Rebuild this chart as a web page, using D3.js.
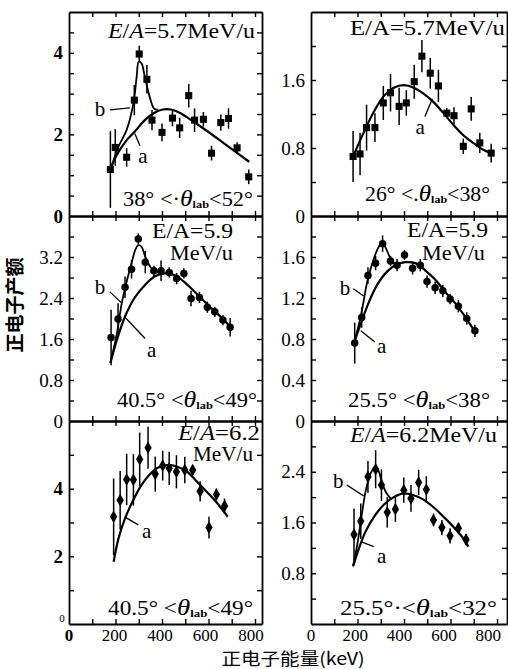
<!DOCTYPE html>
<html>
<head>
<meta charset="utf-8">
<script src="https://cdn.jsdelivr.net/npm/d3@7"></script>
<style>
body { margin: 0; background: #fff; }
svg { display: block; }
text { font-family: "Liberation Serif", "DejaVu Serif", serif; fill: #000; }
</style>
</head>
<body>
<svg width="508" height="669"></svg>
<script>
// DATA  (energy in keV, yield, error)
// panel 1: E/A=5.7, 38-52 deg
const e1 = [178, 199, 248, 281, 302, 335, 357, 400, 445, 476, 515, 540, 578, 613, 653, 686, 723, 773];
const y1 = [1.14, 1.68, 1.44, 2.84, 3.97, 3.35, 2.35, 2.05, 2.40, 2.16, 2.95, 2.35, 2.37, 1.54, 2.29, 2.39, 1.67, 0.96];
const err1 = [0.94, 0.45, 0.23, 0.37, 0.2, 0.35, 0.25, 0.22, 0.2, 0.25, 0.29, 0.29, 0.18, 0.18, 0.2, 0.25, 0.14, 0.18];
const a1 = [[178, 1.13], [206, 1.50], [248, 1.86], [283, 2.07], [326, 2.35], [368, 2.53], [403, 2.61], [438, 2.61], [480, 2.52], [536, 2.31], [592, 2.09], [648, 1.86], [705, 1.62], [775, 1.33]];
const b1 = [[178, 1.13], [213, 1.70], [248, 2.11], [277, 2.76], [291, 3.41], [300, 3.78], [312, 3.74], [326, 3.41], [347, 2.92], [365, 2.64], [382, 2.60]];

// panel 2: E/A=5.7, 26-38 deg
const e2 = [181, 211, 239, 275, 311, 342, 379, 410, 444, 477, 513, 548, 584, 615, 655, 689, 726, 775];
const y2 = [0.70, 0.73, 1.04, 1.04, 1.33, 1.45, 1.29, 1.33, 1.58, 1.88, 1.68, 1.53, 1.21, 1.18, 0.82, 1.26, 0.86, 0.74];
const err2 = [0.30, 0.25, 0.27, 0.17, 0.2, 0.22, 0.22, 0.15, 0.2, 0.19, 0.18, 0.19, 0.06, 0.1, 0.09, 0.14, 0.12, 0.11];
const a2 = [[181, 0.70], [228, 0.99], [271, 1.23], [313, 1.41], [356, 1.51], [399, 1.54], [442, 1.51], [484, 1.44], [527, 1.34], [570, 1.21], [613, 1.07], [655, 0.95], [698, 0.86], [741, 0.78], [775, 0.74]];

// panel 3: E/A=5.9, 40.5-49 deg
const e3 = [181, 211, 241, 269, 298, 328, 365, 396, 431, 463, 494, 525, 561, 595, 627, 662, 693];
const y3 = [1.63, 1.99, 2.61, 2.96, 3.55, 3.10, 2.93, 2.93, 2.90, 2.78, 2.88, 2.39, 2.41, 2.22, 2.13, 1.97, 1.83];
const err3 = [0.54, 0.31, 0.21, 0.18, 0.11, 0.22, 0.1, 0.2, 0.1, 0.11, 0.1, 0.15, 0.11, 0.11, 0.1, 0.1, 0.18];
const a3 = [[178, 1.13], [206, 1.58], [241, 2.04], [283, 2.41], [326, 2.65], [368, 2.82], [410, 2.88], [452, 2.85], [494, 2.72], [536, 2.54], [578, 2.35], [620, 2.17], [662, 1.99], [698, 1.81]];
const b3 = [[178, 1.13], [206, 1.71], [227, 2.30], [248, 2.72], [269, 3.08], [286, 3.35], [298, 3.43], [312, 3.40], [328, 3.21], [351, 3.00], [375, 2.91], [396, 2.90]];

// panel 4: E/A=5.9, 25.5-38 deg
const e4 = [188, 218, 245, 278, 308, 342, 370, 402, 437, 470, 499, 534, 567, 598, 634, 670, 705];
const y4 = [0.76, 1.01, 1.42, 1.54, 1.73, 1.56, 1.52, 1.62, 1.49, 1.52, 1.36, 1.30, 1.27, 1.19, 1.12, 1.00, 0.88];
const err4 = [0.2, 0.1, 0.08, 0.07, 0.08, 0.05, 0.06, 0.05, 0.06, 0.06, 0.06, 0.06, 0.06, 0.05, 0.06, 0.06, 0.06];
const a4 = [[185, 0.76], [214, 0.95], [249, 1.16], [285, 1.33], [328, 1.46], [370, 1.53], [406, 1.55], [449, 1.54], [491, 1.47], [534, 1.38], [577, 1.26], [620, 1.15], [662, 1.02], [705, 0.87]];
const b4 = [[185, 0.76], [214, 1.02], [242, 1.36], [264, 1.54], [285, 1.67], [302, 1.73], [316, 1.71], [335, 1.62], [356, 1.54], [377, 1.53]];

// panel 5: E/A=6.2, 40.5-49 deg
const e5 = [192, 220, 248, 277, 304, 340, 371, 403, 431, 462, 498, 532, 564, 602, 634, 669];
const y5 = [3.17, 3.66, 4.27, 4.26, 4.87, 5.21, 4.43, 4.68, 4.60, 4.50, 4.55, 4.55, 3.92, 2.85, 3.83, 3.49];
const err5 = [1.13, 0.86, 0.76, 0.76, 0.79, 0.62, 0.52, 0.44, 0.49, 0.49, 0.39, 0.15, 0.3, 0.32, 0.17, 0.22];
const a5 = [[192, 1.84], [213, 2.53], [241, 3.12], [277, 3.67], [312, 4.11], [347, 4.42], [382, 4.62], [424, 4.70], [466, 4.65], [508, 4.50], [550, 4.21], [592, 3.91], [635, 3.59], [683, 3.17]];

// panel 6: E/A=6.2, 25.5-32 deg
const e6 = [185, 214, 245, 278, 303, 328, 363, 399, 430, 463, 496, 527, 563, 598, 634, 667];
const y6 = [1.41, 1.62, 2.32, 2.44, 2.19, 1.76, 1.81, 2.11, 1.98, 2.23, 2.12, 1.64, 1.52, 1.39, 1.51, 1.33];
const err6 = [0.41, 0.28, 0.25, 0.3, 0.25, 0.24, 0.2, 0.2, 0.21, 0.2, 0.21, 0.1, 0.12, 0.12, 0.08, 0.09];
const a6 = [[181, 0.91], [206, 1.19], [235, 1.46], [271, 1.69], [313, 1.88], [356, 2.00], [399, 2.06], [442, 2.03], [484, 1.96], [527, 1.84], [570, 1.69], [613, 1.53], [655, 1.35], [677, 1.22]];
const b6 = [[181, 0.91], [200, 1.27], [217, 1.69], [235, 2.09], [256, 2.37], [278, 2.48], [292, 2.40], [306, 2.22], [325, 2.06], [342, 1.98]];

// tick labels
const xTickLabels = [0, 200, 400, 600, 800];
const yLabels1 = [0, 2, 4];
const yLabels2 = [0, 0.8, 1.6];
const yLabels3 = [0, 0.8, 1.6, 2.4, 3.2];
const yLabels4 = [0, 0.4, 0.8, 1.2, 1.6];
const yLabels5 = [2, 4];
const yLabels6 = [0.8, 1.6, 2.4];

const svg = d3.select("svg");

// LAYOUT
const cols = [[69, 262], [311, 507]];
const rows = [[12, 216], [216, 421], [421, 624]];
const pxPerKeV = 0.2325;
// the printed keV labels sit a little left of their ticks
const labelShift = [0.005, 0.011];

const fmtInt = d3.format("d");
const fmtDec = d => d === 0 ? "0" : d3.format(".1f")(d);

const panels = [
    { col: 0, row: 0, e: e1, y: y1, err: err1, a: a1, b: b1, ymax: 5, step: 0.5, labels: yLabels1, fmt: fmtInt, bold: true, marker: "square",
      title: [{ t: "5.7MeV/u", ea: true, italic: true, x: 108, y: 38, w: 147 }],
      theta: { pre: "38° <·", post: "<52°", x: 123, y: 206, w: 130 },
      notes: [{ t: "b", at: [133, 2.45], line: [[176, 2.60], [262, 2.65]] }, { t: "a", at: [318, 1.30], line: [[283, 2.02], [305, 1.72]] }] },
    { col: 1, row: 0, e: e2, y: y2, err: err2, a: a2, b: null, ymax: 2.4, step: 0.4, labels: yLabels2, fmt: fmtDec, marker: "square",
      title: [{ t: "5.7MeV/u", ea: true, italic: false, x: 350, y: 35, w: 155 }],
      theta: { pre: "26° <.", post: "<38°", x: 365, y: 201, w: 125 },
      notes: [{ t: "a", at: [469, 0.96], line: [[490, 1.17], [522, 1.38]] }] },
    { col: 0, row: 1, e: e3, y: y3, err: err3, a: a3, b: b3, ymax: 4, step: 0.4, labels: yLabels3, fmt: fmtDec, marker: "circle",
      title: [{ t: "5.9", ea: true, italic: false, x: 152, y: 238, w: 81 }, { t: "MeV/u", x: 170, y: 260, w: 63 }],
      theta: { pre: "40.5° <", post: "<49°", x: 117, y: 407, w: 140 },
      notes: [{ t: "b", at: [133, 2.48], line: [[176, 2.52], [227, 2.30]] }, { t: "a", at: [356, 1.25], line: [[327, 1.61], [240, 2.03]] }] },
    { col: 1, row: 1, e: e4, y: y4, err: err4, a: a4, b: b4, ymax: 2, step: 0.2, labels: yLabels4, fmt: fmtDec, marker: "circle",
      title: [{ t: "5.9", ea: true, italic: false, x: 407, y: 237, w: 81 }, { t: "MeV/u", x: 422, y: 260, w: 63 }],
      theta: { pre: "25.5° <", post: "<38°", x: 348, y: 407, w: 142 },
      notes: [{ t: "b", at: [146, 1.23], line: [[182, 1.29], [226, 1.22]] }, { t: "a", at: [304, 0.66], line: [[275, 0.77], [214, 0.88]] }] },
    { col: 0, row: 2, e: e5, y: y5, err: err5, a: a5, b: null, ymax: 6, step: 1, labels: yLabels5, fmt: fmtInt, bold: true, marker: "diamond",
      title: [{ t: "6.2", ea: true, italic: true, x: 178, y: 440, w: 82 }, { t: "MeV/u", x: 193, y: 461, w: 60 }],
      theta: { pre: "40.5° <", post: "<49°", x: 108, y: 615, w: 145 },
      notes: [{ t: "a", at: [334, 2.54], line: [[298, 2.93], [243, 3.15]] }] },
    { col: 1, row: 2, e: e6, y: y6, err: err6, a: a6, b: b6, ymax: 3.2, step: 0.4, labels: yLabels6, fmt: fmtDec, marker: "diamond",
      title: [{ t: "6.2MeV/u", ea: true, italic: true, x: 350, y: 442, w: 147 }],
      theta: { pre: "25.5°·<", post: "<32°", x: 340, y: 615, w: 157 },
      notes: [{ t: "b", at: [117, 2.14], line: [[154, 2.19], [226, 2.02]] }, { t: "a", at: [304, 0.96], line: [[270, 1.22], [214, 1.30]] }] }
];

const line = d3.line().curve(d3.curveCatmullRom.alpha(0.5));

panels.forEach(p => {
    const [x0, x1] = cols[p.col];
    const [top, bottom] = rows[p.row];
    const x = d3.scaleLinear().domain([0, (x1 - x0) / pxPerKeV]).range([x0, x1]);
    const y = d3.scaleLinear().domain([0, p.ymax]).range([bottom, top]);
    const g = svg.append("g");

    // AXES (ticks pointing inwards on all four sides)
    const xt = d3.range(100, 801, 100);
    const yt = d3.range(p.step, p.ymax - 1e-6, p.step);
    g.append("g").attr("transform", `translate(0,${bottom})`)
        .call(d3.axisBottom(x).tickValues(xt).tickSize(-5).tickSizeOuter(0).tickFormat(""));
    g.append("g").attr("transform", `translate(0,${top})`)
        .call(d3.axisTop(x).tickValues(xt).tickSize(-5).tickSizeOuter(0).tickFormat(""));
    g.append("g").attr("transform", `translate(${x0},0)`)
        .call(d3.axisLeft(y).tickValues(yt).tickSize(-5).tickSizeOuter(0).tickFormat(""));
    g.append("g").attr("transform", `translate(${x1},0)`)
        .call(d3.axisRight(y).tickValues(yt).tickSize(-5).tickSizeOuter(0).tickFormat(""));
    g.selectAll(".domain").attr("stroke", "#000").attr("stroke-width", 1.8);
    g.selectAll(".tick line").attr("stroke", "#000").attr("stroke-width", 1.4);

    // Y TICK LABELS
    g.selectAll("text.ylab")
        .data(p.labels)
        .enter()
        .append("text")
        .attr("class", "ylab")
        .attr("x", x0 - 6)
        .attr("y", d => y(d))
        .attr("dy", "0.35em")
        .attr("text-anchor", "end")
        .attr("font-size", 19)
        .attr("font-weight", p.bold ? "bold" : null)
        .text(d => p.fmt(d));

    // X TICK LABELS
    if (p.row === 2) {
        g.selectAll("text.xlab")
            .data(xTickLabels)
            .enter()
            .append("text")
            .attr("x", d => x(d) - d * labelShift[p.col])
            .attr("y", 641)
            .attr("text-anchor", "middle")
            .attr("font-size", 17)
            .attr("font-weight", d => p.col === 0 && d === 0 ? "bold" : null)
            .text(d => d);
    }

    // CURVES
    g.append("path").attr("d", line(p.a.map(d => [x(d[0]), y(d[1])])))
        .attr("fill", "none").attr("stroke", "#000").attr("stroke-width", 2.2);
    if (p.b) {
        g.append("path").attr("d", line(p.b.map(d => [x(d[0]), y(d[1])])))
            .attr("fill", "none").attr("stroke", "#000").attr("stroke-width", 1.8);
    }

    // ERROR BARS
    const pts = p.e.map((e, i) => ({ e: e, v: p.y[i], s: p.err[i] }));
    g.selectAll("line.err")
        .data(pts)
        .enter()
        .append("line")
        .attr("x1", d => x(d.e)).attr("x2", d => x(d.e))
        .attr("y1", d => y(d.v - d.s)).attr("y2", d => y(d.v + d.s))
        .attr("stroke", "#000").attr("stroke-width", 1.5);

    // MARKERS
    const sym = { square: d3.symbolSquare, circle: d3.symbolCircle, diamond: d3.symbolDiamond }[p.marker];
    const size = { square: 50, circle: 44, diamond: 46 }[p.marker];
    g.selectAll("path.pt")
        .data(pts)
        .enter()
        .append("path")
        .attr("transform", d => `translate(${x(d.e)},${y(d.v)})`)
        .attr("d", d3.symbol().type(sym).size(size))
        .attr("fill", "#000");

    // LEADERS + a/b LABELS
    p.notes.forEach(n => {
        g.append("line")
            .attr("x1", x(n.line[0][0])).attr("y1", y(n.line[0][1]))
            .attr("x2", x(n.line[1][0])).attr("y2", y(n.line[1][1]))
            .attr("stroke", "#000").attr("stroke-width", 1.3);
        g.append("text")
            .attr("x", x(n.at[0])).attr("y", y(n.at[1]))
            .attr("text-anchor", "middle")
            .attr("font-size", 21)
            .text(n.t);
    });

    // TITLES
    p.title.forEach(t => {
        const txt = g.append("text")
            .attr("x", t.x).attr("y", t.y)
            .attr("font-size", 20)
            .attr("textLength", t.w)
            .attr("lengthAdjust", "spacingAndGlyphs");
        if (t.ea) {
            txt.append("tspan").attr("font-style", t.italic ? "italic" : null).text("E");
            txt.append("tspan").text("/");
            txt.append("tspan").attr("font-style", t.italic ? "italic" : null).text("A");
            txt.append("tspan").text("=" + t.t);
        } else {
            txt.text(t.t);
        }
    });

    // ANGLE RANGE
    const th = g.append("text")
        .attr("x", p.theta.x).attr("y", p.theta.y)
        .attr("font-size", 20)
        .attr("textLength", p.theta.w)
        .attr("lengthAdjust", "spacingAndGlyphs");
    th.append("tspan").text(p.theta.pre);
    th.append("tspan").attr("font-style", "italic").attr("font-size", 23).text("θ");
    th.append("tspan").attr("font-size", 11).attr("font-weight", "bold").attr("dy", 2).text("lab");
    th.append("tspan").attr("dy", -2).text(p.theta.post);
});

// small zero at the origin of the bottom-left panel
svg.append("text").attr("x", 62).attr("y", 622).attr("font-size", 11).attr("text-anchor", "middle").text("0");

// AXIS TITLES
svg.append("text")
    .attr("transform", "translate(22,305) rotate(-90)")
    .attr("text-anchor", "middle")
    .attr("font-size", 19)
    .style("font-family", "'Noto Sans CJK SC', sans-serif")
    .style("font-weight", "bold")
    .text("正电子产额");

svg.append("text")
    .attr("x", 293)
    .attr("y", 665)
    .attr("text-anchor", "middle")
    .attr("font-size", 17)
    .attr("textLength", 143)
    .attr("lengthAdjust", "spacingAndGlyphs")
    .style("font-family", "'Noto Sans CJK SC', sans-serif")
    .text("正电子能量(keV)");
</script>
</body>
</html>
